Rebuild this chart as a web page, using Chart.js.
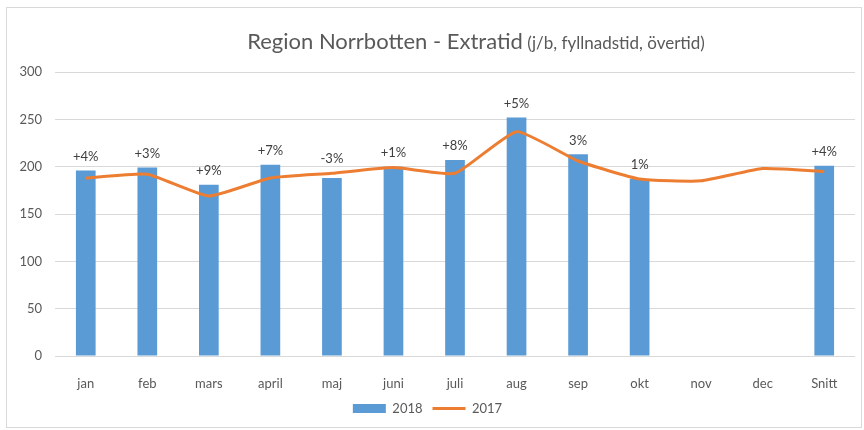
<!DOCTYPE html>
<html lang="sv">
<head>
<meta charset="UTF-8">
<script src="https://cdn.jsdelivr.net/npm/chart.js"></script>
<title>Region Norrbotten - Extratid</title>
<style>
  * { margin: 0; padding: 0; box-sizing: border-box; }
  body { background: #fff; width: 864px; height: 430px; overflow: hidden; }
  .frame {
    position: absolute; left: 6px; top: 7px; width: 856px; height: 421px;
    border: 1px solid #d9d9d9;
  }
  #chart { position: absolute; left: 0; top: 0; }
</style>
</head>
<body>
<div class="frame"></div>
<canvas id="chart" width="864" height="430"></canvas>

<script>
// data block
const months = ['jan', 'feb', 'mars', 'april', 'maj', 'juni', 'juli', 'aug', 'sep', 'okt', 'nov', 'dec', 'Snitt'];
const values2018 = [196, 199, 181, 202, 188, 200, 207, 252, 213, 187, null, null, 201];
const values2017 = [188, 192, 169, 188, 193, 199, 193, 237, 206, 187, 185, 198, 195];
const changeLabels = ['+4%', '+3%', '+9%', '+7%', '-3%', '+1%', '+8%', '+5%', '3%', '1%', '', '', '+4%'];
const yTicks = [0, 50, 100, 150, 200, 250, 300];

const FONT = 'Lato, "Open Sans", sans-serif';
const GREY = '#595959';

// title with two font sizes, drawn by hand
const titlePlugin = {
  id: 'mixedTitle',
  afterDraw(chart) {
    const ctx = chart.ctx;
    const big = 'Region Norrbotten - Extratid';
    const small = ' (j/b, fyllnadstid, övertid)';
    ctx.save();
    ctx.fillStyle = GREY;
    ctx.textBaseline = 'alphabetic';
    ctx.font = '22px ' + FONT;
    const w1 = ctx.measureText(big).width;
    ctx.font = '17px ' + FONT;
    const w2 = ctx.measureText(small).width;
    const x0 = 476 - (w1 + w2) / 2;
    ctx.font = '22px ' + FONT;
    ctx.textAlign = 'left';
    ctx.fillText(big, x0, 49);
    ctx.font = '17px ' + FONT;
    ctx.fillText(small, x0 + w1, 49);
    ctx.restore();
  }
};

// percentage labels above the higher of bar / line
const changePlugin = {
  id: 'changeLabels',
  afterDatasetsDraw(chart) {
    const { ctx, scales: { x, y } } = chart;
    ctx.save();
    ctx.font = '13px ' + FONT;
    ctx.fillStyle = '#404040';
    ctx.textAlign = 'center';
    ctx.textBaseline = 'middle';
    changeLabels.forEach((txt, i) => {
      if (!txt) return;
      const top = Math.max(values2018[i] ?? 0, values2017[i] ?? 0);
      ctx.fillText(txt, x.getPixelForValue(i), y.getPixelForValue(top) - 14);
    });
    ctx.restore();
  }
};

const config = {
  data: {
    labels: months,
    datasets: [
      {
        type: 'bar',
        label: '2018',
        data: values2018,
        backgroundColor: '#5B9BD5',
        barPercentage: 0.32,
        categoryPercentage: 1,
        order: 2,
        pointStyle: 'rect'
      },
      {
        type: 'line',
        label: '2017',
        data: values2017,
        borderColor: '#ED7D31',
        backgroundColor: '#ED7D31',
        borderWidth: 3,
        tension: 0.15,
        pointRadius: 0,
        order: 1,
        pointStyle: 'line'
      }
    ]
  },
  options: {
    responsive: false,
    animation: false,
    layout: { padding: { left: 0, right: 9, top: 72, bottom: 5 } },
    scales: {
      x: {
        grid: { display: false },
        border: { display: false },
        ticks: { color: GREY, font: { size: 13, family: FONT }, padding: 12 },
        afterFit(scale) { scale.height = 36; }
      },
      y: {
        min: 0,
        max: 300,
        afterBuildTicks(scale) { scale.ticks = yTicks.map(v => ({ value: v })); },
        grid: { color: '#d9d9d9', drawTicks: false },
        border: { display: false },
        ticks: { color: GREY, font: { size: 13, family: FONT }, padding: 13 },
        afterFit(scale) { scale.width = 55; }
      }
    },
    plugins: {
      title: { display: false },
      tooltip: { enabled: false },
      legend: {
        position: 'bottom',
        labels: {
          usePointStyle: true,
          pointStyleWidth: 33,
          boxHeight: 9,
          padding: 10,
          color: GREY,
          font: { size: 13, family: FONT },
          sort: (a, b) => a.datasetIndex - b.datasetIndex
        }
      }
    }
  },
  plugins: [titlePlugin, changePlugin]
};

new Chart(document.getElementById('chart'), config);
</script>
</body>
</html>
